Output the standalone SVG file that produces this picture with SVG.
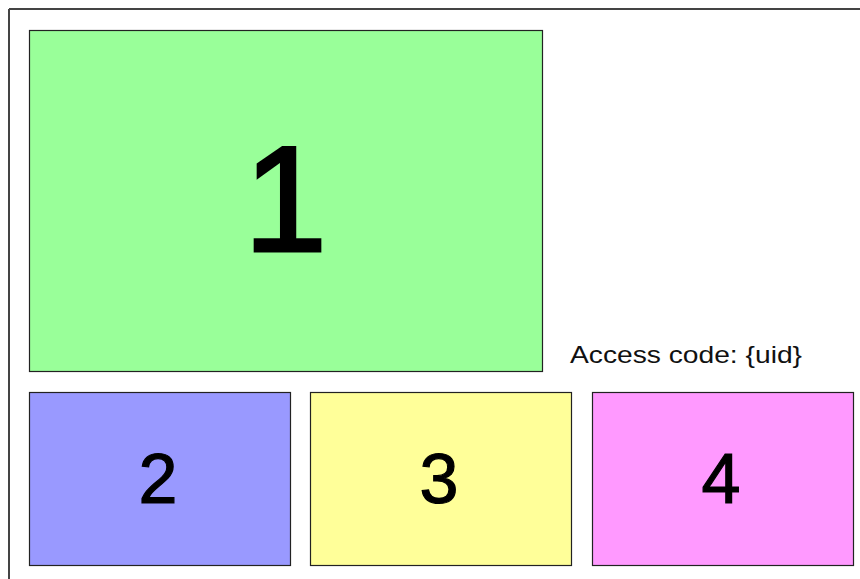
<svg xmlns="http://www.w3.org/2000/svg" width="860" height="579" viewBox="0 0 860 579">
<style>
.box{stroke:#222;stroke-width:1.2}
.num{font-family:"Liberation Sans",Arial,sans-serif;fill:#000;stroke:#000;text-anchor:middle}
.lbl{font-family:"Liberation Sans",Arial,sans-serif;fill:#111;font-size:24px}
</style>
<rect width="860" height="579" fill="#fff"/>
<path d="M9,9 H860 M9,9 V579" fill="none" stroke="#444" stroke-width="2"/>
<g id="node1">
<rect class="box" x="29.5" y="30.5" width="513" height="341" fill="#99ff99"/>
<text class="num" x="285.5" y="251" font-size="150" stroke-width="3">1</text>
</g>
<g id="node2">
<rect class="box" x="29.5" y="392.5" width="261" height="173" fill="#9999ff"/>
<text class="num" x="158" y="503" font-size="70" stroke-width="1.2">2</text>
</g>
<g id="node3">
<rect class="box" x="310.5" y="392.5" width="261" height="173" fill="#ffff99"/>
<text class="num" x="439" y="503" font-size="70" stroke-width="1.2">3</text>
</g>
<g id="node4">
<rect class="box" x="592.5" y="392.5" width="261" height="173" fill="#ff99ff"/>
<text class="num" x="721" y="503" font-size="70" stroke-width="1.2">4</text>
</g>
<g id="label">
<text class="lbl" x="570" y="363" textLength="232" lengthAdjust="spacingAndGlyphs">Access code: {uid}</text>
</g>
<g id="connectors"/>
</svg>
